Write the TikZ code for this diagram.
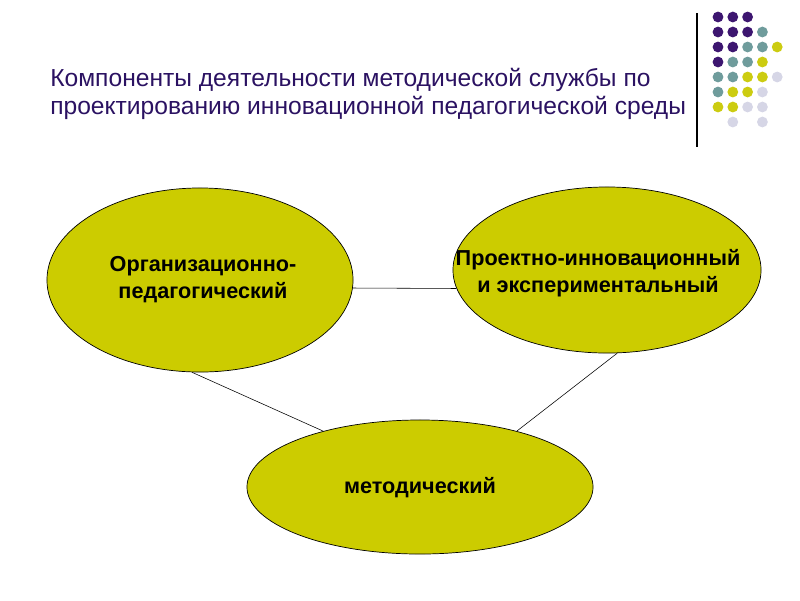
\documentclass[tikz,border=0pt]{standalone}
\usepackage{fontspec}
\setmainfont{Liberation Sans}
\usetikzlibrary{shapes.geometric}
\definecolor{titleviolet}{HTML}{2B1262}
\definecolor{ovalolive}{HTML}{CCCC00}
\definecolor{dotviolet}{HTML}{3D1670}
\definecolor{dotteal}{HTML}{6F9C9C}
\definecolor{dotolive}{HTML}{CCCC11}
\definecolor{dotlilac}{HTML}{D6D6E6}

\begin{document}
\begin{tikzpicture}[x=0.025cm,y=-0.025cm,
    oval/.style={ellipse, draw=black, line width=0.5pt, fill=ovalolive, inner sep=0pt},
    ovaltext/.style={align=center, inner sep=0pt, font=\fontsize{15.4}{19.2}\selectfont\bfseries},
    heading/.style={anchor=base west, text=titleviolet, inner sep=0pt,
      font=\fontsize{17.5}{21}\selectfont},
    link/.style={draw=black, line width=0.4pt}]
  \useasboundingbox (0,0) rectangle (800,600);

  % title
  \node [heading] (head1) at (50,86) {Компоненты деятельности методической службы по};
  \node [heading] (head2) at (50,114) {проектированию инновационной педагогической среды};

  % corner decoration
  \draw [black, line width=0.8pt] (697,13) -- (697,147);
  \foreach \c/\r/\col in {0/0/dotviolet,1/0/dotviolet,2/0/dotviolet,
      0/1/dotviolet,1/1/dotviolet,2/1/dotviolet,3/1/dotteal,
      0/2/dotviolet,1/2/dotviolet,2/2/dotteal,3/2/dotteal,4/2/dotolive,
      0/3/dotviolet,1/3/dotteal,2/3/dotteal,3/3/dotolive,
      0/4/dotteal,1/4/dotteal,2/4/dotolive,3/4/dotolive,4/4/dotlilac,
      0/5/dotteal,1/5/dotolive,2/5/dotolive,3/5/dotlilac,
      0/6/dotolive,1/6/dotolive,2/6/dotlilac,3/6/dotlilac,
      1/7/dotlilac,3/7/dotlilac}
    \fill [\col] (718+14.8*\c,17+15*\r) circle [radius=5.4];

  % the three components
  \node [oval, minimum width=7.65cm, minimum height=4.6cm] (org) at (200,280) {};
  \node [oval, minimum width=7.7cm, minimum height=4.15cm] (proj) at (607,270) {};
  \node [oval, minimum width=8.65cm, minimum height=3.35cm] (meth) at (420,487) {};

  \node [ovaltext] (orgtext) at (203,280) {Организационно-\\педагогический};
  \node [ovaltext] (projtext) at (598,273) {Проектно-инновационный\\и экспериментальный};
  \node [ovaltext] (methtext) at (420,488) {методический};

  \draw [link] (org.-3) -- (proj.187);
  \draw [link] (org.265) -- (meth.150);
  \draw [link] (proj.277) -- (meth.30);
\end{tikzpicture}
\end{document}
